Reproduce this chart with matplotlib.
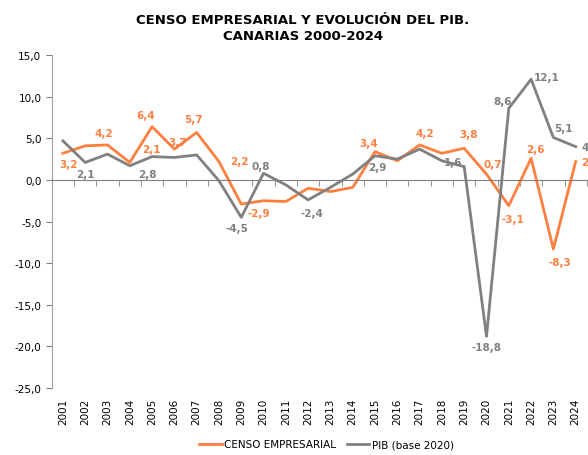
import matplotlib.pyplot as plt
from matplotlib.ticker import FuncFormatter, FixedLocator

years = [str(y) for y in range(2001, 2025)]
censo = [3.2, 4.1, 4.2, 2.1, 6.4, 3.7, 5.7, 2.2, -2.9, -2.5, -2.6, -1.0,
         -1.4, -0.9, 3.4, 2.3, 4.2, 3.2, 3.8, 0.7, -3.1, 2.6, -8.3, 2.2]
pib = [4.7, 2.1, 3.1, 1.7, 2.8, 2.7, 3.0, -0.1, -4.5, 0.8, -0.6, -2.4,
       -0.9, 0.7, 2.9, 2.5, 3.7, 2.3, 1.6, -18.8, 8.6, 12.1, 5.1, 4.0]

# which points get a data label, and where (offset in pixels)
censo_labels = {2001: (6, -11), 2003: (-4, 12), 2004: (22, 13), 2005: (-6, 12),
                2006: (3, 7), 2007: (-3, 13), 2008: (20, 1), 2009: (18, -9),
                2015: (-6, 9), 2017: (5, 12), 2019: (4, 14), 2020: (6, 10),
                2021: (4, -13), 2022: (4, 9), 2023: (6, -13), 2024: (15, 0)}
pib_labels = {2002: (0, -12), 2005: (-5, -17), 2009: (-4, -11), 2010: (-3, 7),
              2012: (4, -13), 2015: (2, -11), 2019: (-11, 5), 2020: (0, -11),
              2021: (-6, 7), 2022: (16, 2), 2023: (10, 9), 2024: (15, 0)}

ORANGE = '#FF7F3F'
GRAY = '#808080'

plt.rcParams['font.family'] = 'DejaVu Sans'

fig = plt.figure(figsize=(5.88, 4.56), dpi=100)
ax = fig.add_axes([0.088, 0.147, 0.91, 0.73])

x = list(range(1, len(years) + 1))
ax.plot(x, censo, color=ORANGE, lw=2.0, label='CENSO EMPRESARIAL', clip_on=False)
ax.plot(x, pib, color=GRAY, lw=2.0, label='PIB (base 2020)', clip_on=False)

def fmt(v):
    return ('%.1f' % v).replace('.', ',')

for series, labels, col in [(censo, censo_labels, ORANGE), (pib, pib_labels, GRAY)]:
    for yr, off in labels.items():
        i = yr - 2001
        ax.annotate(fmt(series[i]), (x[i], series[i]), xytext=off,
                    textcoords='offset pixels', ha='center', va='center',
                    fontsize=7.5, fontweight='bold', color=col,
                    annotation_clip=False)

ax.set_xlim(0.5, len(years) + 0.5)
ax.set_ylim(-25, 15)
ax.set_yticks(range(-25, 20, 5))
ax.yaxis.set_major_formatter(FuncFormatter(lambda v, p: fmt(v)))

# years at the bottom, category boundary ticks on the zero line
ax.set_xticks(x)
ax.set_xticklabels(years)
ax.xaxis.set_minor_locator(FixedLocator([i + 0.5 for i in x]))
ax.tick_params(axis='x', which='major', length=0, labelsize=7.5, pad=7,
               top=False, bottom=True, labelrotation=90)
ax.tick_params(axis='x', which='minor', top=True, bottom=False,
               direction='in', length=4, color=GRAY)
ax.tick_params(axis='y', labelsize=7.5, length=4, color=GRAY)

ax.spines['right'].set_visible(False)
ax.spines['bottom'].set_visible(False)
ax.spines['top'].set_position(('data', 0))
ax.spines['top'].set_color(GRAY)
ax.spines['left'].set_color('#A0A0A0')

fig.suptitle('CENSO EMPRESARIAL Y EVOLUCIÓN DEL PIB.\nCANARIAS 2000-2024',
             x=0.515, y=0.97, fontsize=9.5, fontweight='bold', linespacing=1.3)

fig.legend(loc='lower center', bbox_to_anchor=(0.555, -0.008), ncol=2,
           frameon=False, fontsize=7.5, handlelength=2.2, handletextpad=0.2,
           columnspacing=1.0)

fig.savefig('out.png', dpi=100)
